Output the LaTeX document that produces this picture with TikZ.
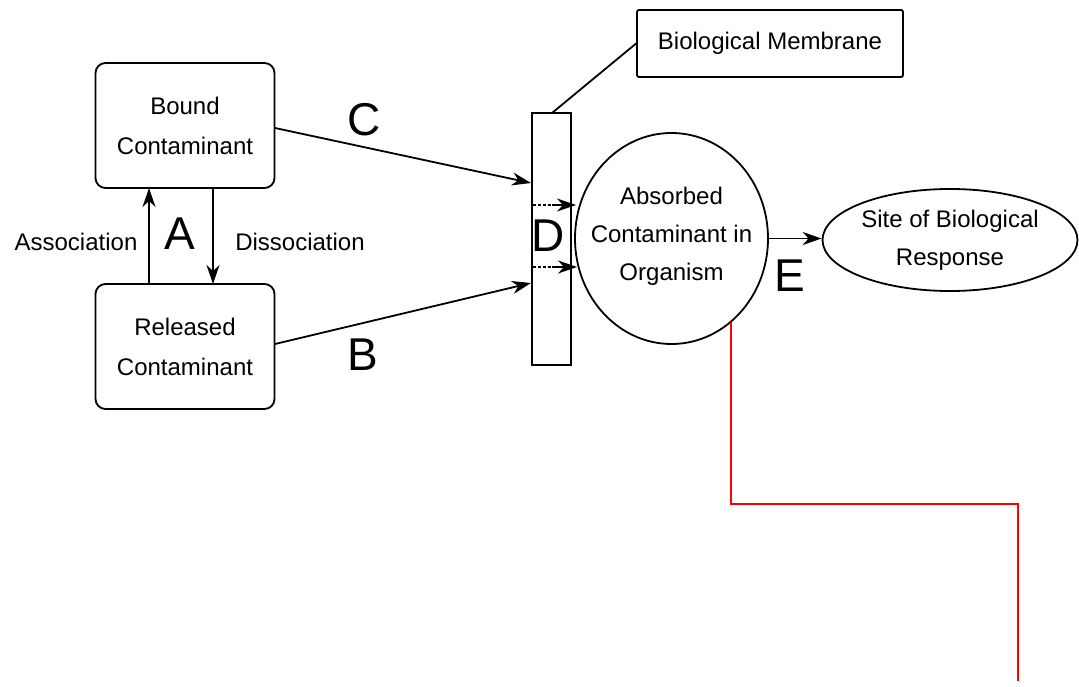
\documentclass[tikz,border=0pt]{standalone}
\usepackage{fontspec}
\setmainfont{Liberation Sans}
\usetikzlibrary{shapes.geometric,arrows.meta}
\begin{document}
\begin{tikzpicture}[x=1pt,y=-1pt,
  line width=1.8pt,
  box/.style={draw,rounded corners=10pt,minimum width=179pt,minimum height=125pt,align=center,inner sep=0pt,font=\fontsize{24}{40}\selectfont},
  oval/.style={draw,ellipse,inner sep=0pt},
  txt/.style={align=center,inner sep=0pt,font=\fontsize{24}{38}\selectfont},
  tag/.style={font=\fontsize{24}{28}\selectfont,inner sep=0pt},
  big/.style={font=\fontsize{46}{46}\selectfont,inner sep=0pt},
  arr/.style={-{Stealth[length=19pt,width=13pt,inset=6pt]}},
  redline/.style={draw=red,line width=1.8pt}]
\useasboundingbox (0,0) rectangle (1079,687);
% nodes
\node[box] (bound) at (185,125.5) {Bound\\Contaminant};
\node[box] (rel) at (185,346.5) {Released\\Contaminant};
\node[draw,minimum width=39pt,minimum height=252pt,inner sep=0pt] (mem) at (551.5,239) {};
\node[draw,rounded corners=2pt,minimum width=266pt,minimum height=67pt,inner sep=0pt,font=\fontsize{24}{28}\selectfont] (lbl) at (770,43.5) {Biological Membrane};
\node[oval,minimum width=193pt,minimum height=211pt] (abs) at (671.5,238.5) {};
\node[txt] (abstxt) at (671.5,236) {Absorbed\\Contaminant in\\Organism};
\node[oval,minimum width=255pt,minimum height=102pt] (site) at (950,240) {};
\node[txt] (sitetxt) at (950,240) {Site of Biological\\Response};
% labels
\node[tag] (assoc) at (76,242) {Association};
\node[tag] (dissoc) at (300,242) {Dissociation};
\node[big] (la) at (180,234) {A};
\node[big] (lb) at (363,355) {B};
\node[big] (lc) at (364,120) {C};
\node[big] (ld) at (548,236) {D};
\node[big] (le) at (790,276) {E};
% coordinates
\coordinate (cS) at (275,128);
\coordinate (cE) at (531,183);
\coordinate (bS) at (275,344);
\coordinate (bE) at (531,283);
\coordinate (d1a) at (533,205);
\coordinate (d1b) at (552,205);
\coordinate (d1c) at (576,205);
\coordinate (d2a) at (533,267);
\coordinate (d2b) at (552,267);
\coordinate (d2c) at (577,267);
\coordinate (memtop) at (552,113);
\coordinate (r0) at (731,322);
\coordinate (r1) at (731,504);
\coordinate (r2) at (1018,504);
\coordinate (r3) at (1018,681);
\coordinate (as0) at (149,284);
\coordinate (as1) at (149,188);
\coordinate (ds0) at (213,188);
\coordinate (ds1) at (213,284);
% connectors
\draw[arr] (cS) -- (cE);
\draw[arr] (bS) -- (bE);
\draw[arr] (as0) -- (as1);
\draw[arr] (ds0) -- (ds1);
\draw[densely dashed,line width=1.2pt] (d1a) -- (d1b);
\draw[arr] (d1b) -- (d1c);
\draw[densely dashed,line width=1.2pt] (d2a) -- (d2b);
\draw[arr] (d2b) -- (d2c);
\draw[arr] (abs.east) -- (abs.east -| site.west);
\draw (memtop) -- (lbl.west);
\draw[redline] (r0) -- (r1) -- (r2) -- (r3);
\end{tikzpicture}
\end{document}
